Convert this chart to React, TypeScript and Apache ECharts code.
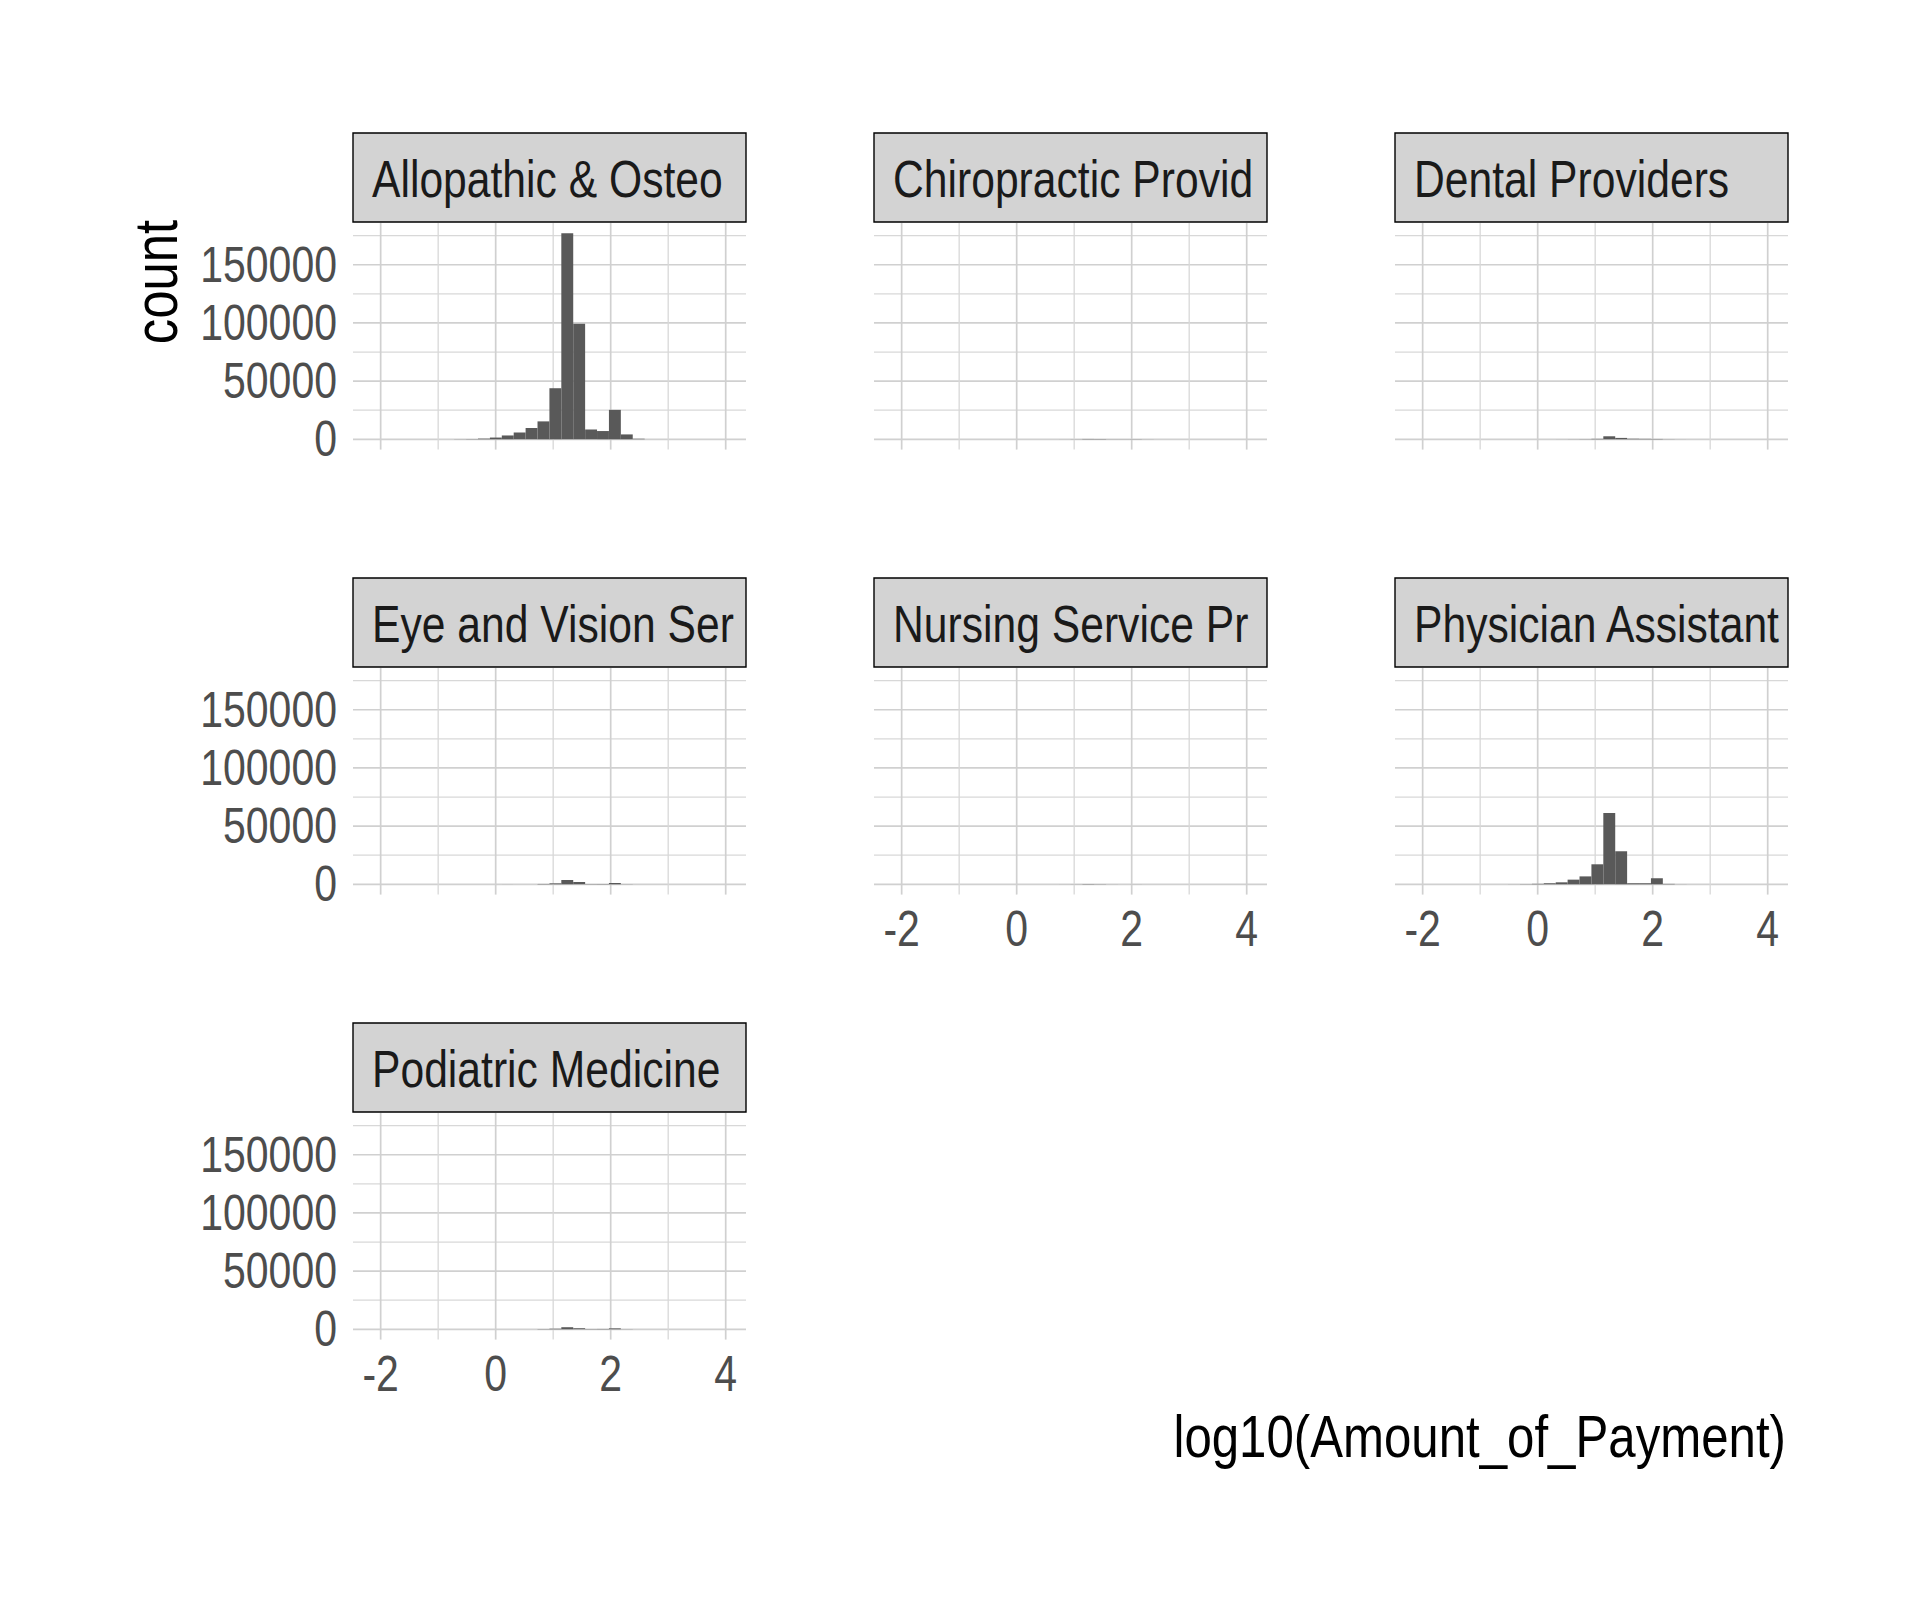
import React, { useEffect, useRef } from "react";
import * as echarts from "echarts";

// ---- data ----
const facetNames = [
  "Allopathic & Osteopathic Physicians",
  "Chiropractic Providers",
  "Dental Providers",
  "Eye and Vision Services Providers",
  "Nursing Service Providers",
  "Physician Assistants & Advanced Practice Nursing Providers",
  "Podiatric Medicine",
];

// histogram: 30 bins
const binStart = -2.1705;
const binWidth = 0.207;

const countsAllopathic = [2, 0, 0, 0, 0, 0, 0, 100, 200, 600, 1500, 3300, 5800, 9800, 15400, 43900, 177000, 99400, 8400, 7100, 25300, 4200, 400, 50, 10, 0, 0, 0, 0, 1];
const countsChiropractic = [0, 0, 0, 0, 0, 0, 0, 0, 0, 0, 0, 0, 0, 10, 30, 100, 300, 250, 100, 100, 150, 50, 0, 0, 0, 0, 0, 0, 0, 0];
const countsDental = [0, 0, 0, 0, 0, 0, 0, 0, 0, 0, 0, 0, 30, 80, 150, 400, 2600, 1200, 500, 400, 300, 100, 30, 0, 0, 0, 0, 0, 0, 0];
const countsEye = [0, 0, 0, 0, 0, 0, 0, 0, 0, 0, 0, 30, 60, 150, 300, 800, 3700, 2000, 250, 250, 1100, 100, 0, 0, 0, 0, 0, 0, 0, 0];
const countsNursing = [0, 0, 0, 0, 0, 0, 0, 0, 0, 0, 0, 0, 0, 10, 30, 80, 250, 150, 40, 20, 40, 0, 0, 0, 0, 0, 0, 0, 0, 0];
const countsPhysician = [0, 0, 0, 0, 0, 0, 0, 0, 50, 150, 400, 900, 1700, 4000, 6800, 17200, 61300, 28400, 900, 900, 5200, 350, 50, 0, 0, 0, 0, 0, 0, 0];
const countsPodiatric = [0, 0, 0, 0, 0, 0, 0, 0, 0, 0, 0, 0, 50, 100, 200, 500, 1800, 1000, 300, 300, 800, 100, 0, 0, 0, 0, 0, 0, 0, 0];

const facetCounts = [countsAllopathic, countsChiropractic, countsDental, countsEye, countsNursing, countsPhysician, countsPodiatric];

const xMajor = [-2, 0, 2, 4];
const xMinor = [-1, 1, 3];
const yMajor = [0, 50000, 100000, 150000];
const yMinor = [25000, 75000, 125000, 175000];

const xLimits = [-2.481, 4.353];
const yLimits = [-8850, 185900];

const xTitle = "log10(Amount_of_Payment)";
const yTitle = "count";

// ---- layout / style ----
const FONT = '"Liberation Sans", Arial, sans-serif';
const NARROW = 0.82; // emulate a narrow (condensed) face
const colLeft = [353, 874, 1395];
const rowTop = [223, 668, 1113];
const panelW = 393;
const panelH = 226.6;
const stripH = 89;
const gridMajor = "#d0d0d0";
const gridMinor = "#d8d8d8";

export default function App() {
  const ref = useRef<HTMLDivElement>(null);
  useEffect(() => {
    if (!ref.current) return;
    const chart = echarts.init(ref.current, undefined, { renderer: "svg" });
    const grids: any[] = [];
    const xAxes: any[] = [];
    const yAxes: any[] = [];
    const series: any[] = [];

    facetNames.forEach((name, i) => {
      const row = Math.floor(i / 3);
      const col = i % 3;
      grids.push({ left: colLeft[col], top: rowTop[row], width: panelW, height: panelH, containLabel: false });
      xAxes.push({
        type: "value",
        gridIndex: i,
        min: xLimits[0],
        max: xLimits[1],
        axisLine: { show: false },
        axisTick: { show: false },
        splitLine: { show: false },
        axisLabel: { show: false },
      });
      yAxes.push({
        type: "value",
        gridIndex: i,
        min: yLimits[0],
        max: yLimits[1],
        axisLine: { show: false },
        axisTick: { show: false },
        splitLine: { show: false },
        axisLabel: { show: false },
      });
      series.push({
        type: "custom",
        xAxisIndex: i,
        yAxisIndex: i,
        silent: true,
        z: 1,
        data: [...yMajor.map((v) => [0, v, 1]), ...yMinor.map((v) => [0, v, 0])],
        renderItem: (params: any, api: any) => {
          const cs = params.coordSys;
          const y = api.coord([0, api.value(1)])[1];
          const major = api.value(2) === 1;
          return {
            type: "line",
            shape: { x1: cs.x, y1: y, x2: cs.x + cs.width, y2: y },
            style: { stroke: major ? gridMajor : gridMinor, lineWidth: major ? 1.7 : 1.3 },
          };
        },
      });
      series.push({
        type: "custom",
        xAxisIndex: i,
        yAxisIndex: i,
        silent: true,
        z: 1,
        data: [...xMajor.map((v) => [v, 0, 1]), ...xMinor.map((v) => [v, 0, 0])],
        renderItem: (params: any, api: any) => {
          const cs = params.coordSys;
          const x = api.coord([api.value(0), 0])[0];
          const major = api.value(2) === 1;
          return {
            type: "line",
            shape: { x1: x, y1: cs.y, x2: x, y2: cs.y + cs.height },
            style: { stroke: major ? gridMajor : gridMinor, lineWidth: major ? 1.7 : 1.3 },
          };
        },
      });
      const counts = facetCounts[i];
      const barData = counts.map((c, k) => [binStart + k * binWidth, binStart + (k + 1) * binWidth, c]);
      series.push({
        type: "custom",
        xAxisIndex: i,
        yAxisIndex: i,
        z: 2,
        encode: { x: [0, 1], y: 2 },
        data: barData,
        renderItem: (params: any, api: any) => {
          const c = api.value(2);
          if (!(c > 0)) return null;
          const p0 = api.coord([api.value(0), c]);
          const p1 = api.coord([api.value(1), 0]);
          return {
            type: "rect",
            shape: { x: p0[0], y: p0[1], width: p1[0] - p0[0], height: p1[1] - p0[1] },
            style: { fill: "#595959" },
          };
        },
      });
    });

    chart.setOption({
      animation: false,
      backgroundColor: "#ffffff",
      grid: grids,
      xAxis: xAxes,
      yAxis: yAxes,
      series,
    });

    // texts positioned through the axes' scales
    const graphics: any[] = [];
    facetNames.forEach((name, i) => {
      const row = Math.floor(i / 3);
      const col = i % 3;
      const left = colLeft[col];
      const top = rowTop[row];
      const stripTop = top - stripH - 1;
      graphics.push({
        type: "rect",
        shape: { x: left, y: stripTop, width: panelW, height: stripH },
        style: { fill: "#d3d3d3", stroke: "#000000", lineWidth: 1.4 },
        z: 10,
      });
      graphics.push({
        type: "text",
        x: left + 19,
        y: stripTop + stripH / 2 + 1,
        scaleX: NARROW,
        z: 11,
        style: {
          text: name,
          fontSize: 52,
          fontFamily: FONT,
          fill: "#1a1a1a",
          verticalAlign: "middle",
          align: "left",
          width: (panelW - 20) / NARROW,
          overflow: "truncate",
          ellipsis: "",
        },
      });
      if (col === 0) {
        yMajor.forEach((v) => {
          const p = chart.convertToPixel({ gridIndex: i }, [0, v]) as number[];
          graphics.push({
            type: "text",
            x: left - 16,
            y: p[1],
            scaleX: NARROW,
            style: { text: String(v), fontSize: 50, fontFamily: FONT, fill: "#4d4d4d", align: "right", verticalAlign: "middle" },
          });
        });
      }
      if (i >= 4) {
        xMajor.forEach((v) => {
          const p = chart.convertToPixel({ gridIndex: i }, [v, 0]) as number[];
          graphics.push({
            type: "text",
            x: p[0],
            y: top + panelH + 9,
            scaleX: NARROW,
            style: { text: String(v), fontSize: 50, fontFamily: FONT, fill: "#4d4d4d", align: "center", verticalAlign: "top" },
          });
        });
      }
    });
    graphics.push({
      type: "text",
      x: 156,
      y: 282,
      rotation: Math.PI / 2,
      scaleX: NARROW,
      style: { text: yTitle, fontSize: 62, fontFamily: FONT, fill: "#000", align: "center", verticalAlign: "middle" },
    });
    graphics.push({
      type: "text",
      x: 1786,
      y: 1436,
      scaleX: NARROW,
      style: { text: xTitle, fontSize: 60, fontFamily: FONT, fill: "#000", align: "right", verticalAlign: "middle" },
    });
    chart.setOption({ graphic: { elements: graphics } });

    return () => chart.dispose();
  }, []);
  return <div ref={ref} style={{ position: "absolute", left: 0, top: 0, width: 1920, height: 1600 }} />;
}
